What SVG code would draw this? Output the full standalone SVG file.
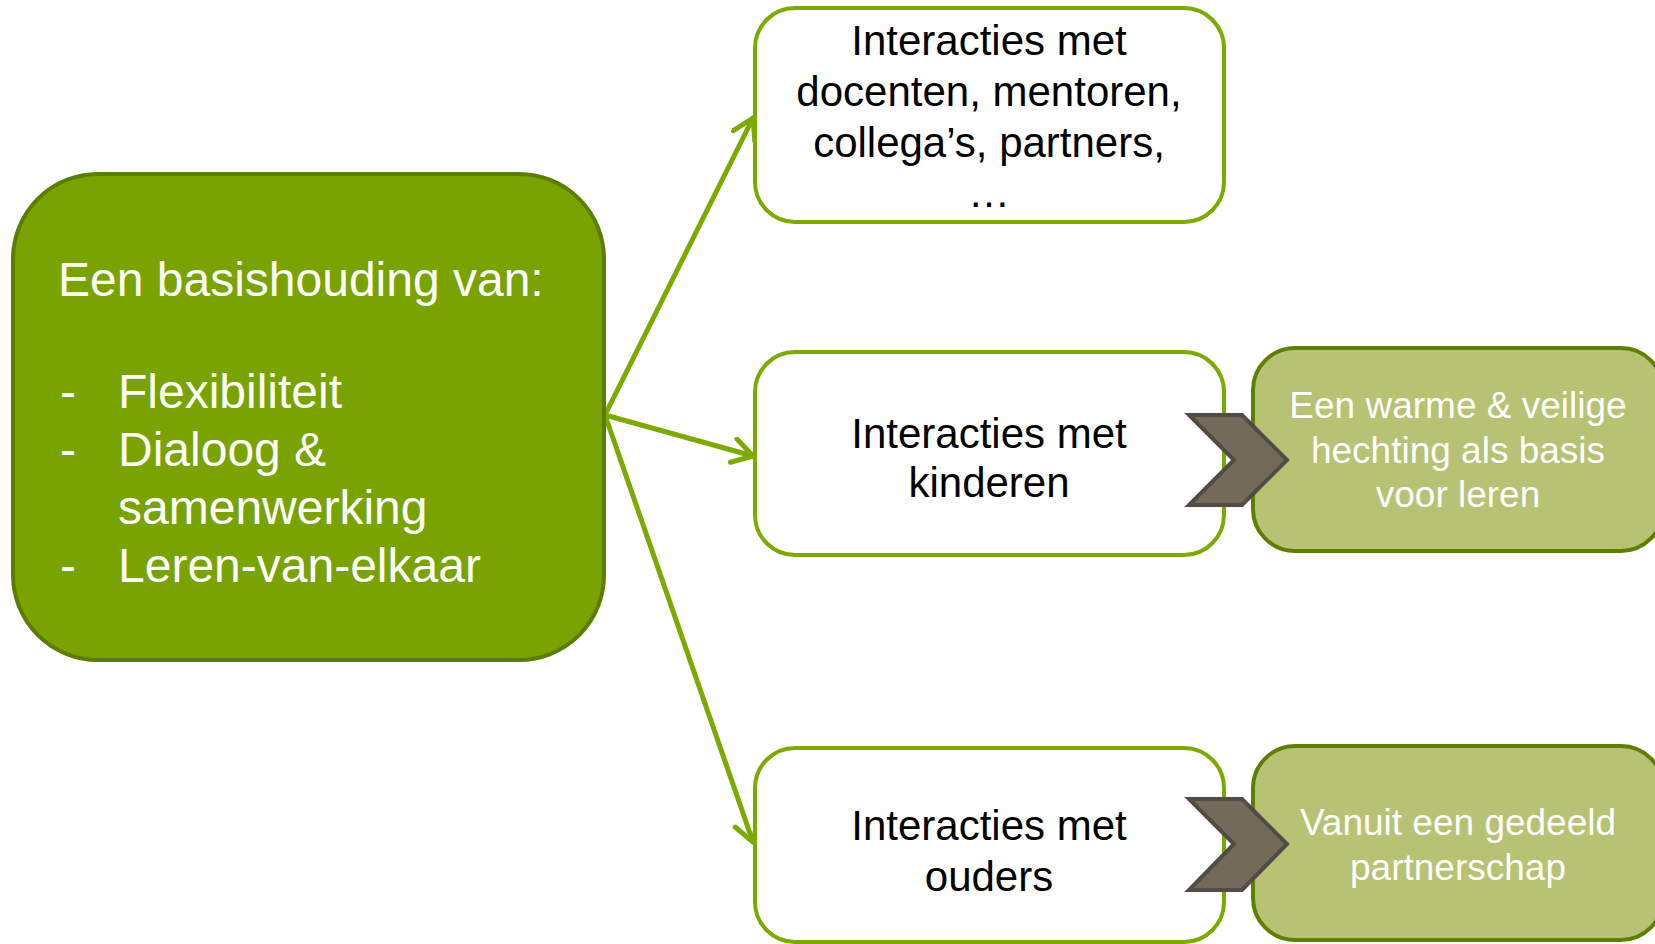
<svg xmlns="http://www.w3.org/2000/svg" width="1655" height="944" viewBox="0 0 1655 944">
<style>
.t{font-family:"Liberation Sans",Arial,sans-serif}
.main{fill:#78A300;stroke:#5B7D00;stroke-width:4}
.wbox{fill:#FFFFFF;stroke:#7BAA00;stroke-width:4}
.rbox{fill:#B8C274;stroke:#5F7F00;stroke-width:4}
.chev{fill:#736A5A;stroke:#524C44;stroke-width:4;stroke-linejoin:miter}
.conn{stroke:#7BAA00;stroke-width:5;fill:none;stroke-linecap:round}
.wt{fill:#FFFFFF}
.bt{fill:#000000;font-size:42px}
</style>
<defs>
<marker id="arr" markerUnits="userSpaceOnUse" markerWidth="40" markerHeight="40" refX="24" refY="14" orient="auto" viewBox="0 0 40 40">
<path d="M4,2 L24,14 L4,26" fill="none" stroke="#7BAA00" stroke-width="5" stroke-linecap="round" stroke-linejoin="round"/>
</marker>
</defs>
<g id="connectors">
<line class="conn" x1="605" y1="415" x2="753" y2="118" marker-end="url(#arr)"/>
<line class="conn" x1="605" y1="415" x2="753" y2="456" marker-end="url(#arr)"/>
<line class="conn" x1="605" y1="415" x2="753" y2="842" marker-end="url(#arr)"/>
</g>
<g id="main">
<rect class="main" x="13" y="174" width="591" height="486" rx="85" ry="85"/>
<g class="t wt" font-size="48">
<text x="58" y="296">Een basishouding van:</text>
<text x="60" y="408">-</text><text x="118" y="408">Flexibiliteit</text>
<text x="60" y="466">-</text><text x="118" y="466">Dialoog &amp;</text>
<text x="118" y="524">samenwerking</text>
<text x="60" y="582">-</text><text x="118" y="582">Leren-van-elkaar</text>
</g>
</g>
<g id="top">
<rect class="wbox" x="755" y="8" width="469" height="214" rx="40" ry="40"/>
<g class="t bt" text-anchor="middle">
<text x="989" y="55">Interacties met</text>
<text x="989" y="106">docenten, mentoren,</text>
<text x="989" y="157">collega’s, partners,</text>
<text x="989" y="207">…</text>
</g>
</g>
<g id="middle">
<rect class="wbox" x="755" y="352" width="469" height="203" rx="40" ry="40"/>
<g class="t bt" text-anchor="middle">
<text x="989" y="448">Interacties met</text>
<text x="989" y="497">kinderen</text>
</g>
</g>
<g id="bottom">
<rect class="wbox" x="755" y="748" width="469" height="194" rx="40" ry="40"/>
<g class="t bt" text-anchor="middle">
<text x="989" y="840">Interacties met</text>
<text x="989" y="891">ouders</text>
</g>
</g>
<g id="right-middle">
<rect class="rbox" x="1253" y="348" width="410" height="203" rx="42" ry="42"/>
<g class="t wt" font-size="37" text-anchor="middle">
<text x="1458" y="418">Een warme &amp; veilige</text>
<text x="1458" y="463">hechting als basis</text>
<text x="1458" y="507">voor leren</text>
</g>
</g>
<g id="right-bottom">
<rect class="rbox" x="1253" y="746" width="410" height="194" rx="42" ry="42"/>
<g class="t wt" font-size="37" text-anchor="middle">
<text x="1458" y="835">Vanuit een gedeeld</text>
<text x="1458" y="880">partnerschap</text>
</g>
</g>
<g id="chevron-middle">
<polygon class="chev" points="1189,415 1242,415 1287,460 1242,505 1189,505 1234,460"/>
</g>
<g id="chevron-bottom">
<polygon class="chev" points="1189,799 1242,799 1287,844 1242,890 1189,890 1234,844"/>
</g>
</svg>
